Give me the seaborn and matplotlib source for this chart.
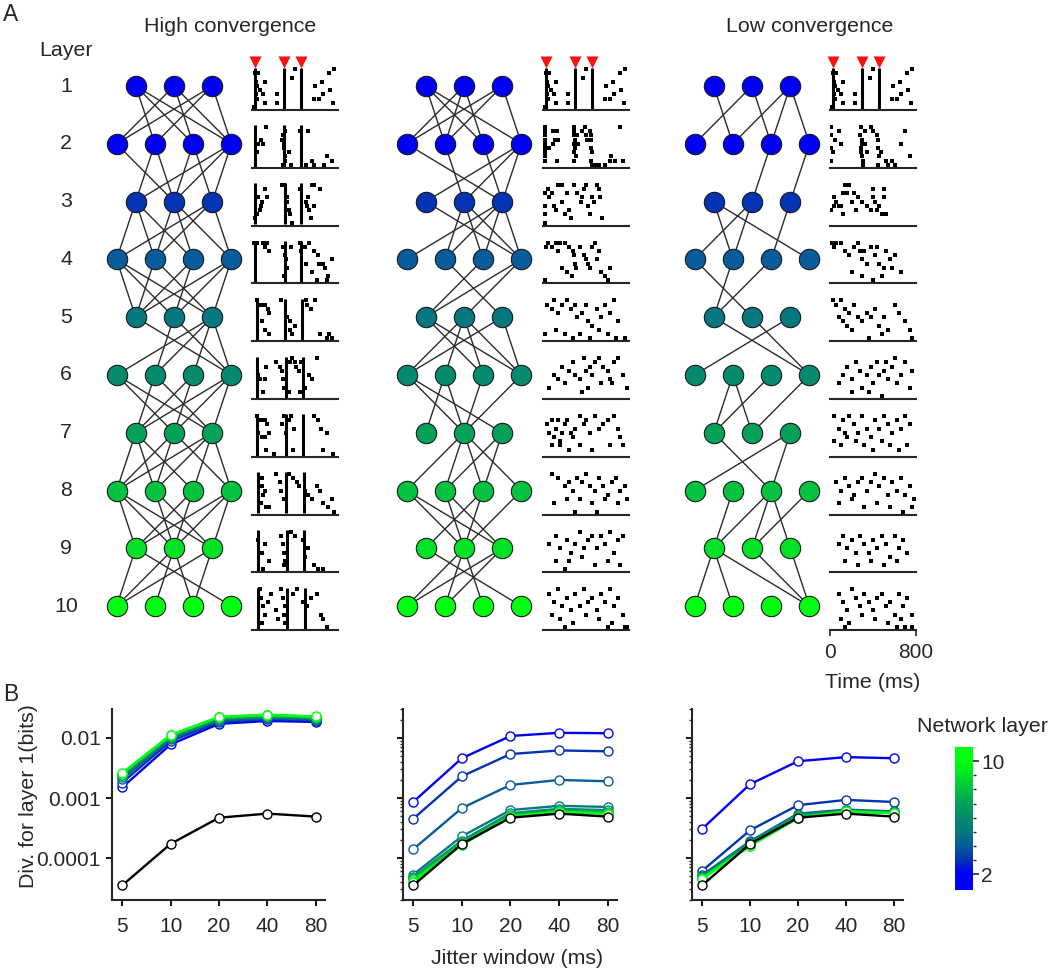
import numpy as np
import pandas as pd
import matplotlib
matplotlib.use("Agg")
import matplotlib.pyplot as plt
import seaborn as sns
from matplotlib.colors import LinearSegmentedColormap, Normalize
from matplotlib.ticker import LogLocator, NullFormatter, FixedLocator, FixedFormatter, NullLocator

# ------------------------------------------------------------------ data
LAYERS = [1, 2, 3, 4, 5, 6, 7, 8, 9, 10]
NODES_PER_LAYER = [3, 4, 3, 4, 3, 4, 3, 4, 3, 4]
NETWORK_TITLES = ["High convergence", "", "Low convergence"]

# connections between consecutive layers, "sd" = source node s -> target node d
EDGES_HIGH = ["01 02 03 10 12 13 20 21 23", "01 10 11 21 22 30 31 32",
              "00 01 02 11 12 13 20 21 23", "00 01 02 10 12 20 21 30 31 32",
              "03 11 13 20 21 22 23", "01 02 10 12 20 21 30 31 32",
              "00 01 02 10 11 13 20 21 22 23", "00 01 02 11 12 20 21 30 31 32",
              "00 03 10 11 12 20 22"]
EDGES_MID = ["01 02 03 10 11 12 20 21 23", "02 11 22 30 31 32",
             "03 11 12 13 20 21 22 23", "12 20 30 31",
             "02 03 10 11 12 13 20 23", "01 02 10 11 21 31",
             "10 11 12 13 21 22", "01 02 11 12 20 21 31",
             "03 10 11 12 20 21"]
EDGES_LOW = ["01 10 12 21 22 23", "21 32", "01 03 10 11 22", "01 10 20",
             "03 13 20", "10 11 20 31", "02 20 22", "10 20 21 22 31",
             "00 01 03 13 23"]

# synchronous (vertical line) spike times, ms, per layer, high convergence
SYNC_HIGH = [[28, 295, 452], [28, 300, 452], [28, 304, 452], [28, 310, 455],
             [44, 304, 467], [44, 317, 474], [50, 317, 474], [53, 317, 480],
             [53, 326, 486], [60, 326, 492]]
INPUT_TIMES = [28, 295, 452]

# scattered spikes "t,r": t in 10 ms units, r = trial
DOTS_HIGH = [
    "3,8 4,6 5,5 4,3 5,2 6,8 12,6 7,4 10,3 12,1 23,3 23,1 40,9 37,7 59,5 65,6 76,9 72,8 58,2 62,2 66,3 73,4 75,1 1,0",
    "8,6 5,3 6,5 10,5 13,9 29,7 31,8 28,6 30,5 30,4 34,3 31,2 31,1 36,0 29,0 50,0 56,1 45,8 52,8 70,2 74,1 67,0 58,0",
    "7,3 8,4 9,5 6,6 5,2 3,1 12,8 14,6 28,9 30,9 33,6 33,5 34,3 35,2 37,0 45,8 50,5 52,6 53,3 56,9 58,9 63,8 55,1 58,4 51,4",
    "2,9 5,9 10,9 12,8 14,9 16,7 29,8 31,6 32,5 33,3 30,1 36,8 45,9 46,7 49,8 53,9 58,7 61,6 62,4 66,4 68,3 50,4 56,2 71,1 74,5 60,0 70,0",
    "5,9 8,8 12,8 15,7 16,6 9,4 12,2 16,1 27,9 33,5 35,4 35,2 37,1 40,3 50,9 51,8 55,7 59,9 63,1 70,0 74,0 72,1",
    "6,5 7,4 13,7 12,4 10,1 22,8 26,7 28,6 29,4 30,2 35,8 34,1 37,9 40,8 41,7 44,6 46,8 53,5 60,9 56,4 49,2 45,1",
    "5,9 8,8 12,8 14,7 6,5 9,4 12,4 16,5 13,1 20,0 30,9 34,8 36,9 28,7 32,5 39,6 38,1 58,9 61,8 64,6 70,5 66,1 75,0",
    "9,8 9,6 10,4 8,2 13,1 16,1 12,5 22,9 26,7 27,5 30,3 34,9 38,8 42,7 44,6 49,5 52,4 56,3 60,6 63,5 66,2 74,3 71,1 76,0",
    "6,7 9,4 12,6 16,2 10,0 27,8 29,6 30,4 31,2 30,1 36,9 40,8 47,7 49,3 52,5 58,1 61,0 66,0",
    "7,9 8,7 10,5 12,3 9,1 15,6 18,8 22,4 24,2 27,9 29,7 31,5 30,3 31,1 38,8 42,9 47,6 51,5 55,7 60,8 64,3 70,0 66,2",
]
DOTS_MID = [
    DOTS_HIGH[0],
    "2,9 2,8 2,7 2,6 2,5 2,4 2,3 2,2 2,1 4,4 6,4 9,5 9,8 11,6 13,8 14,6 13,1 29,9 29,8 29,7 30,6 29,5 30,4 29,3 31,2 29,1 33,5 32,7 36,8 39,9 40,7 41,6 44,8 45,7 45,6 45,4 46,3 45,1 46,0 48,0 52,0 58,0 62,1 63,2 67,1 72,9 74,1",
    "2,7 2,4 2,2 2,0 5,8 6,6 8,7 10,4 12,3 14,9 16,9 18,9 18,5 20,2 22,7 24,3 26,1 29,9 32,7 35,5 36,6 38,8 40,9 42,4 44,2 46,6 47,5 50,9 52,8 53,6 55,1",
    "3,8 5,9 8,8 12,9 14,7 16,9 20,9 24,8 28,7 29,6 30,4 31,3 34,8 38,6 40,5 42,4 44,3 46,8 48,9 52,7 50,5 54,2 58,1 60,0 62,3 27,1 22,2 18,3 2,0",
    "4,8 8,7 10,9 14,6 18,8 22,9 26,7 30,8 32,5 36,6 40,8 42,4 46,3 50,7 54,5 58,8 62,6 66,9 70,4 2,1 12,2 20,1 28,0 34,1 44,0 52,2 60,1 68,0 76,0",
    "6,2 10,5 14,4 18,7 20,3 24,6 28,8 30,5 34,4 38,9 40,6 44,7 46,5 48,8 52,9 56,7 60,6 62,4 66,8 70,9 74,5 36,1 42,2 54,3 64,3 78,2",
    "4,7 6,5 8,8 10,4 12,6 14,8 16,3 18,5 20,7 22,8 26,5 28,4 30,6 34,9 38,7 40,8 44,5 48,9 52,6 56,7 60,8 66,9 70,6 72,4 8,2 16,2 24,1 34,2 46,1 62,2 74,2",
    "8,9 14,8 20,6 24,7 28,5 32,8 36,7 40,9 44,6 48,5 52,8 56,6 60,4 64,7 68,8 72,5 76,6 78,3 10,2 22,3 34,3 46,2 58,3 70,2 30,0 50,0",
    "6,6 12,8 16,5 22,7 26,4 30,6 34,9 38,5 42,7 46,8 50,5 54,8 58,6 62,9 66,4 70,7 74,8 12,2 24,2 36,3 48,1 60,2 72,1 20,0",
    "6,8 10,6 14,9 18,5 22,7 26,4 30,8 34,5 38,9 42,6 46,7 50,4 54,8 58,6 62,9 66,5 70,7 8,3 16,2 28,1 40,3 52,2 64,1 74,3 78,0 20,0 60,0 76,0",
]
DOTS_LOW = [
    DOTS_HIGH[0],
    "1,9 1,7 1,4 1,1 3,3 5,6 8,8 10,5 29,9 28,7 30,6 30,5 29,4 29,3 30,2 31,1 31,0 33,8 33,5 34,3 38,9 40,8 44,7 45,6 45,4 47,3 46,2 45,0 52,1 54,0 58,1 60,0 66,5 70,8 74,2",
    "1,3 4,6 6,5 8,4 4,4 10,4 12,2 14,9 16,9 18,9 12,7 16,7 20,5 22,7 26,6 30,5 24,3 34,4 38,3 40,8 40,6 42,5 44,3 46,4 48,2 50,8 50,6 52,2",
    "2,9 4,8 6,9 10,9 14,7 18,6 22,8 26,9 28,7 30,5 32,7 34,4 38,8 42,6 44,8 46,4 50,3 52,7 56,5 58,3 60,6 66,2 20,2 30,1 40,0 48,1",
    "3,9 6,8 10,9 14,7 18,6 22,8 8,5 12,4 16,3 20,2 26,5 30,4 34,6 38,5 42,7 46,3 50,5 54,2 60,8 64,6 70,4 74,2 76,0 36,0 48,1",
    "8,3 12,5 16,7 20,4 24,8 28,6 30,2 34,5 38,7 40,3 44,8 46,5 50,6 52,8 54,4 58,7 60,9 62,3 66,5 70,8 74,2 76,6 20,1 36,1 48,0",
    "4,9 8,6 12,8 14,5 18,9 22,7 26,5 30,9 34,6 38,4 42,8 46,6 50,9 54,7 58,5 62,8 66,6 70,9 74,7 4,3 10,2 16,4 24,3 32,2 40,1 48,3 56,2 64,1 72,2",
    "6,7 10,5 14,8 18,6 22,4 26,7 30,8 34,5 38,7 42,9 46,6 50,8 54,4 58,7 62,5 66,8 70,4 74,6 78,3 8,2 20,3 32,1 44,2 56,1 68,0 76,1",
    "8,6 12,8 16,5 20,7 24,4 28,8 32,6 36,4 40,7 44,5 48,8 52,6 56,3 60,8 64,5 68,7 72,4 14,2 26,1 38,2 50,1 62,2",
    "8,8 12,6 16,4 20,9 24,7 28,5 32,8 36,6 40,4 44,7 48,8 52,5 56,6 60,3 64,8 68,5 72,7 10,2 18,1 30,3 42,2 54,1 66,2 76,3 14,0 62,0 70,0 76,0",
]

# Panel B: divergence (bits) vs jitter window, rows = network layers 2..10
JITTER = [5, 10, 20, 40, 80]
PLOT_LAYERS = [2, 3, 4, 5, 6, 7, 8, 9, 10]
DIV_HIGH = [[0.00150, 0.0078, 0.0172, 0.0192, 0.0185],
            [0.00180, 0.0088, 0.0185, 0.0205, 0.0195],
            [0.00205, 0.0095, 0.0195, 0.0213, 0.0203],
            [0.00225, 0.0101, 0.0203, 0.0222, 0.0210],
            [0.00238, 0.0105, 0.0210, 0.0228, 0.0215],
            [0.00245, 0.0108, 0.0215, 0.0233, 0.0220],
            [0.00252, 0.0110, 0.0220, 0.0238, 0.0223],
            [0.00256, 0.0111, 0.0223, 0.0242, 0.0226],
            [0.00260, 0.0112, 0.0225, 0.0245, 0.0228]]
DIV_MID = [[8.6e-4, 4.6e-3, 1.08e-2, 1.22e-2, 1.20e-2],
           [4.5e-4, 2.3e-3, 5.4e-3, 6.2e-3, 6.0e-3],
           [1.4e-4, 6.8e-4, 1.65e-3, 2.0e-3, 1.9e-3],
           [5.3e-5, 2.3e-4, 6.3e-4, 7.4e-4, 7.1e-4],
           [4.8e-5, 1.95e-4, 5.6e-4, 6.6e-4, 6.3e-4],
           [4.6e-5, 1.85e-4, 5.3e-4, 6.2e-4, 5.8e-4],
           [4.4e-5, 1.75e-4, 5.1e-4, 6.0e-4, 5.6e-4],
           [4.2e-5, 1.7e-4, 5.0e-4, 5.9e-4, 5.5e-4],
           [4.0e-5, 1.65e-4, 4.9e-4, 5.9e-4, 5.5e-4]]
DIV_LOW = [[3.05e-4, 1.7e-3, 4.1e-3, 4.8e-3, 4.6e-3],
           [6.1e-5, 2.9e-4, 7.6e-4, 9.3e-4, 8.6e-4],
           [5.2e-5, 1.9e-4, 5.5e-4, 6.4e-4, 6.0e-4],
           [5.0e-5, 1.85e-4, 5.3e-4, 6.2e-4, 5.8e-4],
           [4.8e-5, 1.8e-4, 5.2e-4, 6.1e-4, 5.7e-4],
           [4.7e-5, 1.7e-4, 5.0e-4, 6.0e-4, 5.6e-4],
           [4.6e-5, 1.65e-4, 4.8e-4, 6.0e-4, 5.6e-4],
           [4.5e-5, 1.6e-4, 4.7e-4, 6.0e-4, 5.6e-4],
           [4.5e-5, 1.6e-4, 4.6e-4, 6.0e-4, 5.6e-4]]
DIV_CONTROL = [3.5e-5, 1.72e-4, 4.7e-4, 5.5e-4, 4.9e-4]

# ------------------------------------------------------------------ style
W, H = 1050, 968
sns.set_style("ticks")
plt.rcParams["font.family"] = ["Liberation Sans", "DejaVu Sans"]
FS = 15.4
TFS = 15.0
LAYER_CMAP = LinearSegmentedColormap.from_list(
    "layers", ["#0000f5", "#0433b3", "#085c9c", "#07787f", "#068a6e",
               "#05a05a", "#04c040", "#03e028", "#00ff10"])
LNORM = Normalize(2, 10)


def layer_color(l):
    return LAYER_CMAP(LNORM(max(l, 2)))


def px_axes(x0, y0, x1, y1, **kw):
    return fig.add_axes([x0 / W, 1 - y1 / H, (x1 - x0) / W, (y1 - y0) / H], **kw)


def parse_dots(s):
    pts = [p.split(",") for p in s.split()]
    return np.array([float(a) * 10 for a, b in pts]), np.array([float(b) for a, b in pts])


fig = plt.figure(figsize=(W / 100, H / 100), dpi=100)

# ------------------------------------------------------------------ panel A
ov = px_axes(0, 0, W, H)
ov.set_xlim(0, W)
ov.set_ylim(H, 0)
ov.axis("off")

NET_CX = [174, 464, 752]
NODE_DX = 38.3
LAYER_Y0, LAYER_DY = 86, 57.8
RASTER_X = [(252, 338), (543, 629), (830, 916)]


def node_xy(cx, layer_idx, k):
    n = NODES_PER_LAYER[layer_idx]
    return cx + (k - (n - 1) / 2) * NODE_DX, LAYER_Y0 + layer_idx * LAYER_DY


for cx, edges in zip(NET_CX, [EDGES_HIGH, EDGES_MID, EDGES_LOW]):
    for li, spec in enumerate(edges):
        for pair in spec.split():
            s, d = int(pair[0]), int(pair[1])
            x1, y1 = node_xy(cx, li, s)
            x2, y2 = node_xy(cx, li + 1, d)
            ov.plot([x1, x2], [y1, y2], color="#2b2b2b", lw=1.0, zorder=1,
                    solid_capstyle="butt")
    for li, l in enumerate(LAYERS):
        pts = [node_xy(cx, li, k) for k in range(NODES_PER_LAYER[li])]
        ov.scatter([p[0] for p in pts], [p[1] for p in pts], s=215,
                   color=layer_color(l), edgecolors="#1a1a1a", linewidths=0.8,
                   zorder=2)

ov.text(3, 3, "A", fontsize=FS + 1, va="top", ha="left")
ov.text(3, 683, "B", fontsize=FS + 1, va="top", ha="left")
ov.text(66, 50, "Layer", fontsize=FS, va="center", ha="center")
for li, l in enumerate(LAYERS):
    ov.text(66, LAYER_Y0 + li * LAYER_DY, str(l), fontsize=FS, va="center", ha="center")
ov.text(230, 26, NETWORK_TITLES[0], fontsize=FS, va="center", ha="center")
ov.text(810, 26, NETWORK_TITLES[2], fontsize=FS, va="center", ha="center")

# rasters
for col, (dots_list, (rx0, rx1)) in enumerate(zip([DOTS_HIGH, DOTS_MID, DOTS_LOW], RASTER_X)):
    for li in range(10):
        yc = LAYER_Y0 + li * LAYER_DY
        ax = px_axes(rx0, yc - 21, rx1, yc + 24)
        ax.patch.set_alpha(0)
        t, r = parse_dots(dots_list[li])
        ax.scatter(t, r, marker="s", s=6, color="k", linewidths=0)
        if col == 0:
            sync = SYNC_HIGH[li]
        elif li == 0:
            sync = SYNC_HIGH[0]
        else:
            sync = []
        if sync:
            ax.vlines(sync, -0.4, 9.4, color="k", lw=2.2)
        if li == 0:
            ax.plot(INPUT_TIMES, [10.7] * 3, "v", color="#ff1010", ms=8,
                    clip_on=False, mec="none")
        ax.set_xlim(0, 800)
        ax.set_ylim(-0.7, 10)
        for sp in ["top", "right", "left"]:
            ax.spines[sp].set_visible(False)
        ax.spines["bottom"].set_linewidth(1.5)
        ax.set_yticks([])
        if col == 2 and li == 9:
            ax.set_xticks([0, 800])
            ax.set_xticklabels(["0", "800"])
            ax.tick_params(axis="x", direction="out", length=4, width=1.2,
                           labelsize=TFS, pad=5)
            ax.set_xlabel("Time (ms)", fontsize=FS, labelpad=8)
        else:
            ax.set_xticks([])

# ------------------------------------------------------------------ panel B
B_AX = [(112, 325), (403, 617), (692, 903)]
B_TOP, B_BOT = 709, 900
xlo, xhi = 5 * 2 ** -0.21, 80 * 2 ** 0.19
for i, (div, (bx0, bx1)) in enumerate(zip([DIV_HIGH, DIV_MID, DIV_LOW], B_AX)):
    ax = px_axes(bx0, B_TOP, bx1, B_BOT)
    ax.patch.set_alpha(0)
    rows = []
    for l, vals in zip(PLOT_LAYERS, div):
        for j, v in zip(JITTER, vals):
            rows.append({"layer": l, "jitter": j, "div": v})
    df = pd.DataFrame(rows)
    pal = {l: layer_color(l) for l in PLOT_LAYERS}
    sns.lineplot(data=df, x="jitter", y="div", hue="layer", palette=pal,
                 marker="o", markersize=6.5, lw=1.7, legend=False, ax=ax,
                 estimator=None, sort=False)
    dfc = pd.DataFrame({"jitter": JITTER, "div": DIV_CONTROL})
    sns.lineplot(data=dfc, x="jitter", y="div", color="black", marker="o",
                 markersize=6.5, lw=1.7, legend=False, ax=ax, sort=False)
    for ln in ax.lines:
        ln.set_markerfacecolor("white")
        ln.set_markeredgecolor(ln.get_color())
        ln.set_markeredgewidth(1.0)
    ax.set_xscale("log", base=2)
    ax.set_yscale("log")
    ax.set_xlim(xlo, xhi)
    ax.set_ylim(2.0e-5, 0.0304)
    ax.xaxis.set_major_locator(FixedLocator(JITTER))
    ax.xaxis.set_major_formatter(FixedFormatter([str(j) for j in JITTER]))
    ax.xaxis.set_minor_locator(NullLocator())
    ax.yaxis.set_major_locator(FixedLocator([1e-4, 1e-3, 1e-2]))
    if i == 0:
        ax.yaxis.set_major_formatter(FixedFormatter(["0.0001", "0.001", "0.01"]))
        ax.yaxis.set_minor_locator(NullLocator())
    else:
        ax.yaxis.set_major_formatter(NullFormatter())
        ax.yaxis.set_minor_locator(LogLocator(base=10, subs=np.arange(2, 10)))
        ax.yaxis.set_minor_formatter(NullFormatter())
    ax.set_xlabel("")
    ax.set_ylabel("")
    sns.despine(ax=ax)
    for sp in ["left", "bottom"]:
        ax.spines[sp].set_linewidth(1.5)
    ax.tick_params(axis="both", which="major", direction="out", length=4,
                   width=1.3, labelsize=TFS, color="k")
    ax.tick_params(axis="x", pad=8)
    ax.tick_params(axis="y", pad=4)
    ax.tick_params(axis="y", which="minor", direction="out", length=2.5, width=1.0)

fig.text(28 / W, 1 - 796 / H, "Div. for layer 1(bits)", rotation=90,
         fontsize=FS, ha="center", va="center")
fig.text(517 / W, 1 - 958 / H, "Jitter window (ms)", fontsize=FS,
         ha="center", va="center")

# colorbar
cax = px_axes(955, 747, 973, 890)
grad = np.linspace(0.9, 11, 256)[:, None]
cax.imshow(grad, cmap=LAYER_CMAP, norm=LNORM, aspect="auto", origin="lower",
           extent=[0, 1, 0.9, 11])
cax.set_xticks([])
cax.yaxis.tick_right()
cax.set_yticks([2, 10])
cax.set_yticklabels(["2", "10"])
cax.yaxis.set_minor_locator(FixedLocator([3, 4, 5, 6, 7, 8, 9]))
cax.tick_params(axis="y", which="major", direction="out", length=4, width=1.2,
                labelsize=TFS, pad=2)
cax.tick_params(axis="y", which="minor", direction="out", length=2.5, width=1.0)
for sp in cax.spines.values():
    sp.set_visible(False)
fig.text(982 / W, 1 - 727 / H, "Network layer", fontsize=FS, ha="center", va="center")

fig.savefig("out.png", dpi=100)
